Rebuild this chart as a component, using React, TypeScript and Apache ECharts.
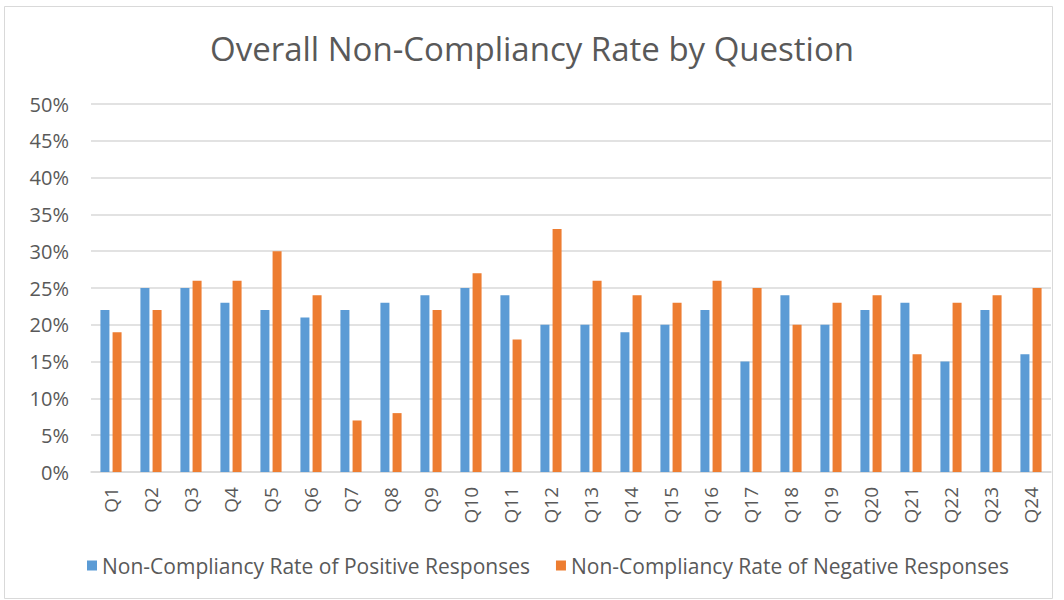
import React, { useEffect, useRef } from "react";
import * as echarts from "echarts";

const categories = ["Q1","Q2","Q3","Q4","Q5","Q6","Q7","Q8","Q9","Q10","Q11","Q12","Q13","Q14","Q15","Q16","Q17","Q18","Q19","Q20","Q21","Q22","Q23","Q24"];
const positive = [22,25,25,23,22,21,22,23,24,25,24,20,20,19,20,22,15,24,20,22,23,15,22,16];
const negative = [19,22,26,26,30,24,7,8,22,27,18,33,26,24,23,26,25,20,23,24,16,23,24,25];
const seriesNames = ["Non-Compliancy Rate of Positive Responses", "Non-Compliancy Rate of Negative Responses"];
const title = "Overall Non-Compliancy Rate by Question";

const FONT = "Open Sans";

export default function App() {
  const ref = useRef<HTMLDivElement>(null);
  useEffect(() => {
    if (!ref.current) return;
    const chart = echarts.init(ref.current, null, { renderer: "svg" });
    chart.setOption({
      animation: false,
      backgroundColor: "#ffffff",
      textStyle: { fontFamily: FONT },
      title: {
        text: title,
        left: "center",
        top: 27,
        textStyle: { fontFamily: FONT, fontSize: 33, fontWeight: "normal", color: "#595959" },
      },
      graphic: [
        { type: "rect", shape: { x: 4.5, y: 6.5, width: 1048, height: 592 }, style: { fill: "none", stroke: "#d9d9d9", lineWidth: 1 }, silent: true },
      ],
      legend: {
        bottom: 19,
        left: 82,
        itemWidth: 10,
        itemHeight: 10,
        itemGap: 26,
        icon: "rect",
        textStyle: { fontFamily: FONT, fontSize: 21, color: "#595959" },
        data: seriesNames,
      },
      grid: { left: 91, right: 13, top: 104, bottom: 128 },
      xAxis: {
        type: "category",
        data: categories,
        axisLine: { lineStyle: { color: "#d9d9d9", width: 1.5 } },
        axisTick: { show: false },
        axisLabel: { rotate: 90, fontSize: 19, color: "#595959", fontFamily: FONT, margin: 15 },
      },
      yAxis: {
        type: "value",
        min: 0,
        max: 50,
        interval: 5,
        axisLine: { show: false },
        axisTick: { show: false },
        splitLine: { lineStyle: { color: "#d9d9d9", width: 1.5 } },
        axisLabel: { formatter: "{value}%", fontSize: 20, color: "#595959", fontFamily: FONT, margin: 22 },
      },
      series: [
        { name: seriesNames[0], type: "bar", data: positive, barWidth: 9, barGap: "35%", itemStyle: { color: "#5b9bd5" } },
        { name: seriesNames[1], type: "bar", data: negative, barWidth: 9, barGap: "35%", itemStyle: { color: "#ed7d31" } },
      ],
    });
    return () => chart.dispose();
  }, []);
  return <div ref={ref} style={{ position: "fixed", left: 0, top: 0, width: 1064, height: 600 }} />;
}
